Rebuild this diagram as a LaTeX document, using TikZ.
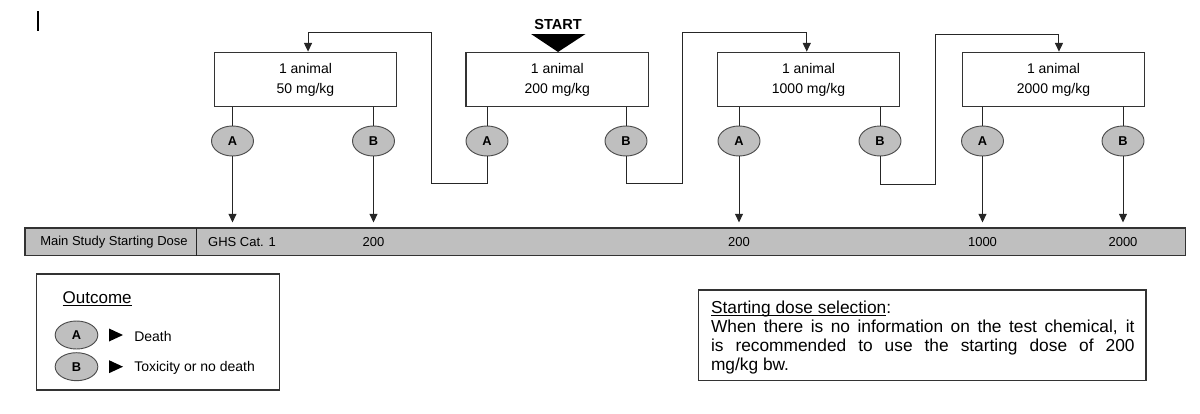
\documentclass[tikz,border=0pt]{standalone}
\usepackage{fontspec}
\setmainfont{Liberation Sans}
\usetikzlibrary{arrows.meta,shapes.geometric}

\begin{document}
\begin{tikzpicture}[x=0.75pt,y=-0.75pt]
% Diagram style
\tikzset{
    dosebox/.style={draw=black!80, line width=0.8pt, minimum width=137pt, minimum height=41pt, align=center, font=\fontsize{10.5}{15}\selectfont},
    outcome/.style={ellipse, draw=black!70, line width=0.7pt, fill=black!25, minimum width=31.5pt, minimum height=22.5pt, inner sep=0pt, font=\bfseries\fontsize{9.6}{10}\selectfont},
    link/.style={draw=black!85, line width=0.75pt},
    flow/.style={link, -{Triangle[width=6pt,length=6.5pt]}},
    bartext/.style={font=\fontsize{9.75}{11}\selectfont, inner sep=0pt},
    legtext/.style={font=\fontsize{10.5}{12}\selectfont, inner sep=0pt, anchor=west}
}
\useasboundingbox (0,0) rectangle (1200,414);

% Cursor mark
\draw[line width=0.9pt] (38,11) -- (38,31);

% Start
\node[font=\bfseries\fontsize{10.9}{12}\selectfont, inner sep=0pt] (START) at (558,24) {START};
\fill (531,34) -- (585.5,34) -- (558,52) -- cycle;

% Dose boxes
\node[dosebox] (BOXa) at (305.5,79.5) {1 animal\\50 mg/kg};
\node[dosebox] (BOXb) at (557.3,79.5) {1 animal\\200 mg/kg};
\node[dosebox] (BOXc) at (808.5,79.5) {1 animal\\1000 mg/kg};
\node[dosebox] (BOXd) at (1053.5,79.5) {1 animal\\2000 mg/kg};

% Outcomes
\node[outcome] (Aa) at (232.5,141) {A};
\node[outcome] (Ba) at (373.5,141) {B};
\node[outcome] (Ab) at (487,141) {A};
\node[outcome] (Bb) at (626,141) {B};
\node[outcome] (Ac) at (739,141) {A};
\node[outcome] (Bc) at (880,141) {B};
\node[outcome] (Ad) at (982.5,141) {A};
\node[outcome] (Bd) at (1123,141) {B};

% Main study bar
\node[draw=black!80, line width=0.8pt, fill=black!25, minimum width=870.4pt, minimum height=20.8pt, inner sep=0pt] (BAR) at (605.25,241.85) {};
\draw[link] (196,228) -- (196,255.7);
\node[bartext] (MAIN) at (114,242) {Main Study Starting Dose};
\node[bartext] (GHS) at (242,242) {GHS Cat. 1};
\node[bartext] (Da) at (Ba |- BAR) {200};
\node[bartext] (Db) at (Ac |- BAR) {200};
\node[bartext] (Dc) at (Ad |- BAR) {1000};
\node[bartext] (Dd) at (Bd |- BAR) {2000};

% Connection
\foreach \o/\b in {Aa/BOXa,Ba/BOXa,Ab/BOXb,Bb/BOXb,Ac/BOXc,Bc/BOXc,Ad/BOXd,Bd/BOXd}
    \draw[link] (\o |- \b.south) -- (\o);
\foreach \o in {Aa,Ba,Ac,Ad,Bd}
    \draw[flow, shorten >=3.75pt] (\o) -- (\o |- BAR.north);

\draw[flow] (Ab.south) |- (431.7,183) -- (431.7,32) -| ([xshift=1.9pt]BOXa.north);
\draw[flow] (Bb.south) |- (682.3,183) -- (682.3,32) -| ([xshift=-1.3pt]BOXc.north);
\draw[flow] (Bc.south) |- (935.6,184) -- (935.6,34) -| ([xshift=4.1pt]BOXd.north);

% Legend
\node[draw=black!80, line width=0.8pt, minimum width=182.6pt, minimum height=87pt, inner sep=0pt] (LEG) at (158.1,332) {};
\node[font=\fontsize{12.75}{14}\selectfont, inner sep=0pt, anchor=base west] (OUT) at (62.4,303) {\underline{\smash{Outcome}}};
\node[outcome, minimum width=32pt, minimum height=21pt] (legA) at (76.5,335) {A};
\node[outcome, minimum width=32pt, minimum height=21pt] (legB) at (76.5,366.7) {B};
\fill (109,328.5) -- (123,335) -- (109,341.5) -- cycle;
\fill (109,360.2) -- (123,366.7) -- (109,373.2) -- cycle;
\node[legtext] (DEATH) at (134,336) {Death};
\node[legtext] (TOX) at (134,367.5) {Toxicity or no death};

% Starting dose note
\node[draw=black!80, line width=0.8pt, minimum width=335.5pt, minimum height=68pt, inner sep=0pt] (SEL) at (922.35,335.35) {};
\node[text width=317.7pt, inner sep=0pt, align=justify, font=\fontsize{13}{14.25}\selectfont] (SELtxt) at (922.8,339.5)
    {\underline{\smash{Starting dose selection}}:\\
     When there is no information on the test chemical, it\linebreak
     is recommended to use the starting dose of 200\linebreak
     mg/kg bw.};

\end{tikzpicture}
\end{document}
